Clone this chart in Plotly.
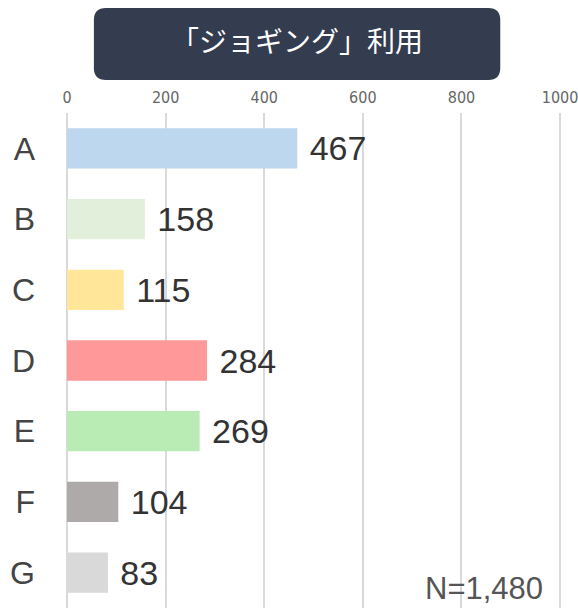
import plotly.graph_objects as go

categories = ["A", "B", "C", "D", "E", "F", "G"]
values = [467, 158, 115, 284, 269, 104, 83]
bar_colors = ["#BDD7EE", "#E2EFDA", "#FFE699", "#FF9999", "#B8ECB4", "#AEAAAA", "#D9D9D9"]
tick_vals = [0, 200, 400, 600, 800, 1000]
title_text = "「ジョギング」利用"
n_text = "N=1,480"

fig = go.Figure()

fig.add_trace(
    go.Bar(
        x=values,
        y=categories,
        orientation="h",
        marker_color=bar_colors,
        marker_line_width=0,
        texttemplate=" %{x}",
        textposition="outside",
        textfont=dict(family="Liberation Sans, Arial", size=34, color="#333333"),
        cliponaxis=False,
        hoverinfo="skip",
    )
)

# rounded title box (paper coords; plot area is 500 x 495 px)
x0, x1, y0, y1 = 0.054, 0.870, 1.0667, 1.212
rx, ry = 12 / 500, 12 / 495
path = (
    f"M {x0 + rx} {y0} L {x1 - rx} {y0} Q {x1} {y0} {x1} {y0 + ry} "
    f"L {x1} {y1 - ry} Q {x1} {y1} {x1 - rx} {y1} "
    f"L {x0 + rx} {y1} Q {x0} {y1} {x0} {y1 - ry} "
    f"L {x0} {y0 + ry} Q {x0} {y0} {x0 + rx} {y0} Z"
)
fig.add_shape(type="path", path=path, xref="paper", yref="paper",
              fillcolor="#343D50", line_width=0, layer="above")

fig.add_annotation(
    text=title_text, xref="paper", yref="paper",
    x=(x0 + x1) / 2, y=(y0 + y1) / 2, yanchor="middle", yshift=4,
    showarrow=False,
    font=dict(family="Noto Sans CJK JP", size=28, color="white"),
)

fig.add_annotation(
    text=n_text, xref="paper", yref="paper",
    x=0.96, y=0.0, xanchor="right", yanchor="bottom", showarrow=False,
    font=dict(family="Liberation Sans, Arial", size=31, color="#555555"),
)

fig.update_xaxes(
    side="top",
    range=[0, 1010],
    tickvals=tick_vals,
    tickfont=dict(family="Liberation Sans Narrow, DejaVu Sans Condensed", size=16, color="#666666"),
    ticklabeloverflow="allow",
    showgrid=True,
    gridcolor="#D9D9D9",
    gridwidth=2,
    zeroline=True,
    zerolinecolor="#D9D9D9",
    zerolinewidth=2,
    showline=False,
    ticklabelstandoff=6,
)
fig.update_yaxes(
    autorange="reversed",
    tickfont=dict(family="Liberation Sans, Arial", size=32, color="#444444"),
    showgrid=False,
    showline=False,
    ticklabelstandoff=31,
)

fig.update_layout(
    width=578,
    height=608,
    margin=dict(l=67, r=11, t=113, b=0),
    plot_bgcolor="white",
    paper_bgcolor="white",
    bargap=0.43,
    showlegend=False,
)

fig.write_html("out.html", config={"displayModeBar": False},
               post_script="document.body.style.margin='0';")
